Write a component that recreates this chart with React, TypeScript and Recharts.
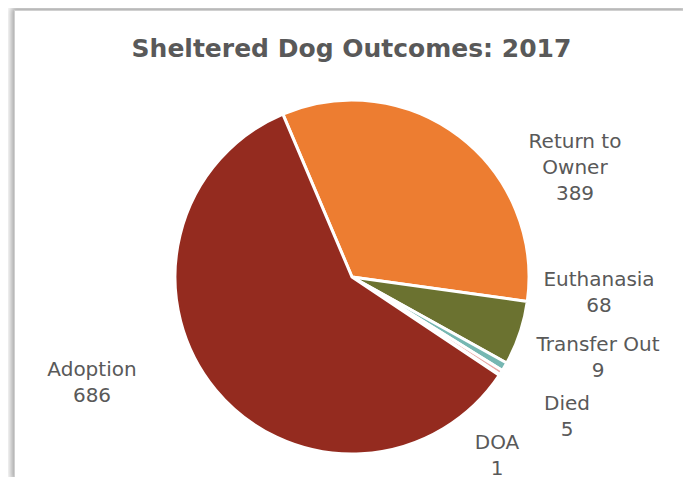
import React from 'react';
import { PieChart, Pie, Cell } from 'recharts';

const categories = ['Return to Owner', 'Euthanasia', 'Transfer Out', 'Died', 'DOA', 'Adoption'];
const counts = [389, 68, 9, 5, 1, 686];
const labelLines = [['Return to', 'Owner'], ['Euthanasia'], ['Transfer Out'], ['Died'], ['DOA'], ['Adoption']];

const COLORS = ['#ED7D31', '#6B7230', '#76B7B2', '#E8A9A6', '#C0504D', '#942B1F'];
// first-line baseline offsets from the pie centre (Excel "best fit" placement)
const LABEL_OFFSETS: [number, number][] = [
  [223, -129],
  [247, 9],
  [246, 74],
  [215, 133],
  [145, 172],
  [-260, 99],
];

const data = categories.map((name, i) => ({ name, value: counts[i] }));

const renderLabel = (props: any) => {
  const { cx, cy, index, value } = props;
  const [dx, dy] = LABEL_OFFSETS[index];
  const lines = [...labelLines[index], String(value)];
  return (
    <text
      x={cx + dx}
      y={cy + dy}
      textAnchor="middle"
      fill="#595959"
      fontSize={20}
      fontFamily="'DejaVu Sans', sans-serif"
    >
      {lines.map((l, i) => (
        <tspan key={i} x={cx + dx} dy={i === 0 ? 0 : 26}>
          {l}
        </tspan>
      ))}
    </text>
  );
};

export default function App() {
  return (
    <div style={{ position: 'relative', width: 691, height: 485, margin: -8, overflow: 'hidden', background: '#fff' }}>
      <div
        style={{
          position: 'absolute',
          left: 14,
          top: 10,
          width: 673,
          height: 471,
          border: '1px solid #d0d0d0',
          boxShadow: '-3px -3px 6px rgba(0,0,0,0.35)',
          background: '#fff',
        }}
      >
        <div
          style={{
            position: 'absolute',
            top: 23,
            left: 0,
            width: 673,
            textAlign: 'center',
            fontFamily: "'DejaVu Sans', sans-serif",
            fontWeight: 'bold',
            fontSize: 25,
            color: '#595959',
          }}
        >
          Sheltered Dog Outcomes: 2017
        </div>
        <PieChart
          width={673}
          height={471}
          margin={{ top: 0, right: 0, bottom: 0, left: 0 }}
          style={{ position: 'absolute', left: 0, top: 0 }}
        >
          <Pie
            data={data}
            dataKey="value"
            nameKey="name"
            cx={337}
            cy={266}
            outerRadius={177}
            startAngle={113}
            endAngle={-247}
            stroke="#ffffff"
            strokeWidth={3}
            label={renderLabel}
            labelLine={false}
            isAnimationActive={false}
          >
            {data.map((d, i) => (
              <Cell key={d.name} fill={COLORS[i]} />
            ))}
          </Pie>
        </PieChart>
      </div>
    </div>
  );
}
